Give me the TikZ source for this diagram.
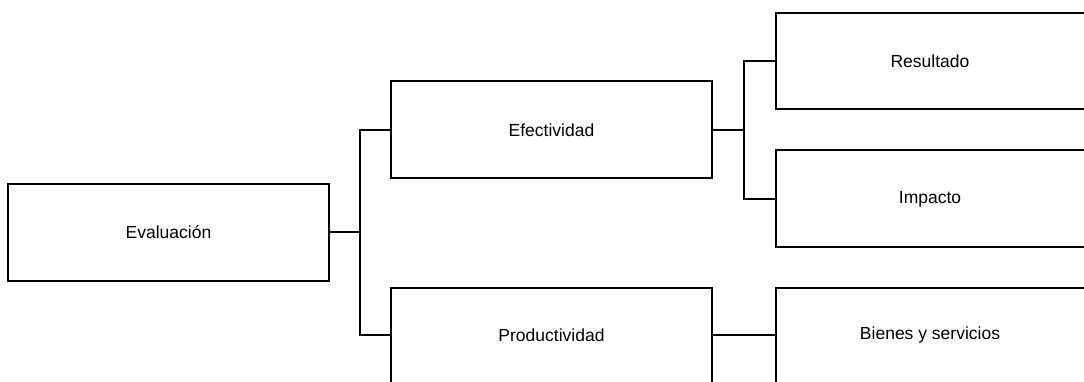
\documentclass[tikz,border=0pt]{standalone}
\usepackage{fontspec}
\setmainfont{Liberation Sans}
\begin{document}
\begin{tikzpicture}[x=1pt,y=-1pt,
  box/.style={draw=black, line width=2.2pt, fill=white},
  lbl/.style={inner sep=0pt, font=\fontsize{17.5}{20}\selectfont},
  conn/.style={draw=black, line width=2.2pt}]
\useasboundingbox (0,0) rectangle (1084,381);
\clip (0,0) rectangle (1084,381);
% boxes (corners in pixel coordinates)
\draw[box] (8,184) rectangle (329,281);
\node[lbl] (eval) at (168.5,232.5) {Evaluación};
\draw[box] (391,81) rectangle (712,178);
\node[lbl] (efec) at (551.5,130) {Efectividad};
\draw[box] (391,288) rectangle (712,400);
\node[lbl] (prod) at (551.5,335) {Productividad};
\draw[box] (776,13) rectangle (1100,109);
\node[lbl] (res) at (930,61) {Resultado};
\draw[box] (776,150) rectangle (1100,247);
\node[lbl] (imp) at (930,199) {Impacto};
\draw[box] (776,288) rectangle (1100,400);
\node[lbl] (bien) at (930,335) {Bienes y servicios};
% anchor coordinates on box edges
\coordinate (evalR) at (329,232);
\coordinate (efecL) at (391,130);
\coordinate (efecR) at (712,130);
\coordinate (prodL) at (391,335);
\coordinate (prodR) at (712,335);
\coordinate (resL) at (776,61);
\coordinate (impL) at (776,199);
\coordinate (bienL) at (776,335);
% connectors
\draw[conn] (evalR) -- (360,232);
\draw[conn] (efecL) -| (360,232) |- (prodL);
\draw[conn] (efecR) -- (744,130);
\draw[conn] (resL) -| (744,130) |- (impL);
\draw[conn] (prodR) -- (bienL);
\end{tikzpicture}
\end{document}
